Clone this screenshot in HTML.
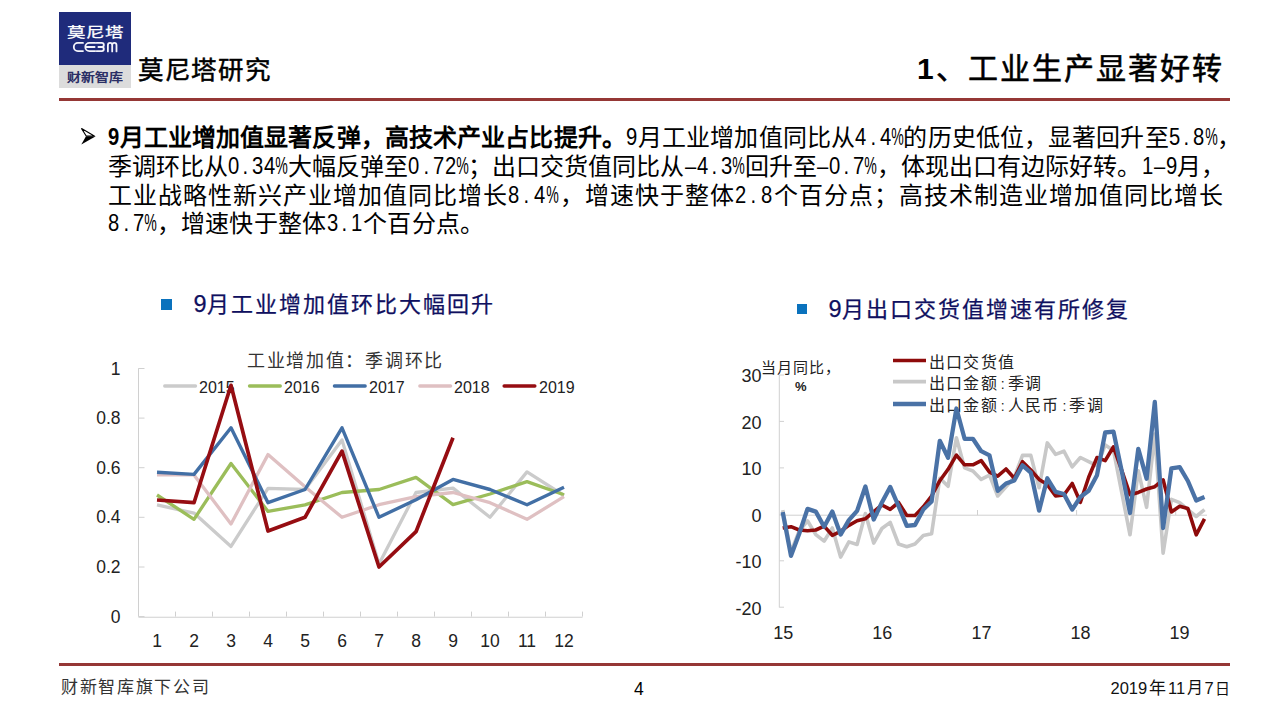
<!DOCTYPE html>
<html lang="zh-CN"><head><meta charset="utf-8">
<style>
html,body{margin:0;padding:0;background:#fff;}
body{width:1280px;height:720px;position:relative;overflow:hidden;font-family:"Liberation Sans",sans-serif;color:#000;}
.a{position:absolute;white-space:nowrap;line-height:1;}
#logo1{position:absolute;left:59px;top:12px;width:72px;height:53px;background:#1f2b7b;}
#logo2{position:absolute;left:59px;top:65px;width:72px;height:23px;background:#dcdcdc;}
.hr{position:absolute;left:59px;width:1171px;height:3px;background:#953735;}
svg{position:absolute;left:0;top:0;}
.ln{position:absolute;display:flex;justify-content:space-between;white-space:nowrap;font-size:24px;line-height:24px;height:24px}
.ln span{display:flex;justify-content:center}
.f{width:24px}
.h{width:12px;font-size:23.5px}
.b{font-weight:bold}
.co{display:inline-block;width:10px;text-align:center;letter-spacing:0;font-size:14px}
s{text-decoration:none;display:inline-block;transform:scaleX(0.86);position:relative;top:-1px}
s.pc{transform:scaleX(0.6)}
</style></head><body>
<div id="logo1"></div><div id="logo2"></div>
<div class="a" style="left:66.5px;top:26px;font-size:18.5px;color:#fff;letter-spacing:0;transform:scaleY(0.76);transform-origin:0 0;font-weight:400;-webkit-text-stroke:0.35px #fff">莫尼塔</div>
<svg width="1280" height="720" style="position:absolute;left:0;top:0"><g fill="none" stroke="#f4f4fb" stroke-width="1.8" stroke-linecap="round" stroke-linejoin="round">
<path d="M83,42.9 H77.9 A4.1,4.1 0 0 0 77.9,51.1 H83"/>
<path d="M95.2,42.9 H89.4 A4.1,4.1 0 0 0 89.4,51.1 H95.2 M86.2,47 H94.6"/>
<path d="M96.6,42.9 H101.8 A2.05,2.05 0 0 1 101.8,47 H98.4 M101.8,47 A2.05,2.05 0 0 1 101.8,51.1 H96.6"/>
<path d="M107.9,51.4 V45.2 A2.15,2.3 0 0 1 112.2,45.2 V51.4 M112.2,45.2 A2.15,2.3 0 0 1 116.5,45.2 V51.4"/>
</g></svg>
<div class="a" style="left:67px;top:70.5px;font-size:14px;color:#2b2f66;font-weight:bold;transform:scaleY(0.88);transform-origin:0 0">财新智库</div>
<div class="a" style="left:138px;top:58px;font-size:25.5px;font-weight:400;letter-spacing:0.7px;-webkit-text-stroke:0.5px #000">莫尼塔研究</div>
<div class="a" style="left:917px;top:54px;font-size:30px;font-weight:400;letter-spacing:2px;-webkit-text-stroke:0.55px #000"><b style="-webkit-text-stroke:0">1</b>、工业生产显著好转</div>
<div class="hr" style="top:98px"></div>

<svg width="1280" height="720" style="position:absolute;left:0;top:0"><path d="M81.3,144.6 L86,136.3 L95.8,136.3 Z" fill="#000"/><path d="M81.6,128.6 L94.3,136 L86.2,136 Z" fill="#fff" stroke="#000" stroke-width="1.1" stroke-linejoin="round"/></svg>
<div class="ln" style="left:107.5px;top:126px;width:1134px"><span class="h b"><s>9</s></span><span class="f b">月</span><span class="f b">工</span><span class="f b">业</span><span class="f b">增</span><span class="f b">加</span><span class="f b">值</span><span class="f b">显</span><span class="f b">著</span><span class="f b">反</span><span class="f b">弹</span><span class="f b">，</span><span class="f b">高</span><span class="f b">技</span><span class="f b">术</span><span class="f b">产</span><span class="f b">业</span><span class="f b">占</span><span class="f b">比</span><span class="f b">提</span><span class="f b">升</span><span class="f b">。</span><span class="h"><s>9</s></span><span class="f">月</span><span class="f">工</span><span class="f">业</span><span class="f">增</span><span class="f">加</span><span class="f">值</span><span class="f">同</span><span class="f">比</span><span class="f">从</span><span class="h"><s>4</s></span><span class="h"><s>.</s></span><span class="h"><s>4</s></span><span class="h"><s class="pc">%</s></span><span class="f">的</span><span class="f">历</span><span class="f">史</span><span class="f">低</span><span class="f">位</span><span class="f">，</span><span class="f">显</span><span class="f">著</span><span class="f">回</span><span class="f">升</span><span class="f">至</span><span class="h"><s>5</s></span><span class="h"><s>.</s></span><span class="h"><s>8</s></span><span class="h"><s class="pc">%</s></span><span class="f">，</span></div>
<div class="ln" style="left:107.5px;top:155px;width:1118px"><span class="f">季</span><span class="f">调</span><span class="f">环</span><span class="f">比</span><span class="f">从</span><span class="h"><s>0</s></span><span class="h"><s>.</s></span><span class="h"><s>3</s></span><span class="h"><s>4</s></span><span class="h"><s class="pc">%</s></span><span class="f">大</span><span class="f">幅</span><span class="f">反</span><span class="f">弹</span><span class="f">至</span><span class="h"><s>0</s></span><span class="h"><s>.</s></span><span class="h"><s>7</s></span><span class="h"><s>2</s></span><span class="h"><s class="pc">%</s></span><span class="f">；</span><span class="f">出</span><span class="f">口</span><span class="f">交</span><span class="f">货</span><span class="f">值</span><span class="f">同</span><span class="f">比</span><span class="f">从</span><span class="h"><s>–</s></span><span class="h"><s>4</s></span><span class="h"><s>.</s></span><span class="h"><s>3</s></span><span class="h"><s class="pc">%</s></span><span class="f">回</span><span class="f">升</span><span class="f">至</span><span class="h"><s>–</s></span><span class="h"><s>0</s></span><span class="h"><s>.</s></span><span class="h"><s>7</s></span><span class="h"><s class="pc">%</s></span><span class="f">，</span><span class="f">体</span><span class="f">现</span><span class="f">出</span><span class="f">口</span><span class="f">有</span><span class="f">边</span><span class="f">际</span><span class="f">好</span><span class="f">转</span><span class="f">。</span><span class="h"><s>1</s></span><span class="h"><s>–</s></span><span class="h"><s>9</s></span><span class="f">月</span><span class="f">，</span></div>
<div class="ln" style="left:107.5px;top:184px;width:1115px"><span class="f">工</span><span class="f">业</span><span class="f">战</span><span class="f">略</span><span class="f">性</span><span class="f">新</span><span class="f">兴</span><span class="f">产</span><span class="f">业</span><span class="f">增</span><span class="f">加</span><span class="f">值</span><span class="f">同</span><span class="f">比</span><span class="f">增</span><span class="f">长</span><span class="h"><s>8</s></span><span class="h"><s>.</s></span><span class="h"><s>4</s></span><span class="h"><s class="pc">%</s></span><span class="f">，</span><span class="f">增</span><span class="f">速</span><span class="f">快</span><span class="f">于</span><span class="f">整</span><span class="f">体</span><span class="h"><s>2</s></span><span class="h"><s>.</s></span><span class="h"><s>8</s></span><span class="f">个</span><span class="f">百</span><span class="f">分</span><span class="f">点</span><span class="f">；</span><span class="f">高</span><span class="f">技</span><span class="f">术</span><span class="f">制</span><span class="f">造</span><span class="f">业</span><span class="f">增</span><span class="f">加</span><span class="f">值</span><span class="f">同</span><span class="f">比</span><span class="f">增</span><span class="f">长</span></div>
<div class="ln" style="left:107.5px;top:212px;width:377px"><span class="h"><s>8</s></span><span class="h"><s>.</s></span><span class="h"><s>7</s></span><span class="h"><s class="pc">%</s></span><span class="f">，</span><span class="f">增</span><span class="f">速</span><span class="f">快</span><span class="f">于</span><span class="f">整</span><span class="f">体</span><span class="h"><s>3</s></span><span class="h"><s>.</s></span><span class="h"><s>1</s></span><span class="f">个</span><span class="f">百</span><span class="f">分</span><span class="f">点</span><span class="f">。</span></div>

<div style="position:absolute;left:161px;top:299px;width:11px;height:11px;background:#0a72bd"></div>
<div class="a" style="left:193.5px;top:293px;font-size:22px;letter-spacing:2.05px;color:#10105f;-webkit-text-stroke:0.25px #10105f"><span style="font-size:23.5px;letter-spacing:0">9</span>月工业增加值环比大幅回升</div>
<div style="position:absolute;left:797px;top:304px;width:10px;height:10px;background:#0a72bd"></div>
<div class="a" style="left:828.5px;top:298px;font-size:22px;letter-spacing:2.05px;color:#10105f;-webkit-text-stroke:0.25px #10105f"><span style="font-size:23.5px;letter-spacing:0">9</span>月出口交货值增速有所修复</div>

<div class="a" style="left:247px;top:351.5px;font-size:18px;color:#333;letter-spacing:1.7px">工业增加值：季调环比</div>
<div class="a" style="left:199px;top:380px;font-size:16px;color:#222">2015</div>
<div class="a" style="left:284px;top:380px;font-size:16px;color:#222">2016</div>
<div class="a" style="left:369px;top:380px;font-size:16px;color:#222">2017</div>
<div class="a" style="left:454px;top:380px;font-size:16px;color:#222">2018</div>
<div class="a" style="left:539px;top:380px;font-size:16px;color:#222">2019</div>







<div id="lxl"></div>

<div class="a" style="left:760.5px;top:359.5px;font-size:15px;letter-spacing:1.0px;color:#222">当月同比，</div>
<div class="a" style="left:795px;top:380px;font-size:13px;font-weight:bold;color:#222">%</div>
<div class="a" style="left:929px;top:355px;font-size:16px;letter-spacing:1.2px;color:#222">出口交货值</div>
<div class="a" style="left:929px;top:376px;font-size:16px;letter-spacing:1.2px;color:#222">出口金额<span class="co">:</span>季调</div>
<div class="a" style="left:929px;top:398px;font-size:16px;letter-spacing:1.2px;color:#222">出口金额<span class="co">:</span>人民币<span class="co">:</span>季调</div>

<svg width="1280" height="720" viewBox="0 0 1280 720">
<line x1="138.5" y1="368.3" x2="138.5" y2="616.6" stroke="#d0d0d0" stroke-width="1"/>
<line x1="138.5" y1="617.2" x2="582.5" y2="617.2" stroke="#d0d0d0" stroke-width="1.1"/>
<line x1="138.5" y1="616.6" x2="144.5" y2="616.6" stroke="#d0d0d0" stroke-width="1"/>
<line x1="138.5" y1="567.0" x2="144.5" y2="567.0" stroke="#d0d0d0" stroke-width="1"/>
<line x1="138.5" y1="517.3" x2="144.5" y2="517.3" stroke="#d0d0d0" stroke-width="1"/>
<line x1="138.5" y1="467.7" x2="144.5" y2="467.7" stroke="#d0d0d0" stroke-width="1"/>
<line x1="138.5" y1="418.1" x2="144.5" y2="418.1" stroke="#d0d0d0" stroke-width="1"/>
<line x1="138.5" y1="368.5" x2="144.5" y2="368.5" stroke="#d0d0d0" stroke-width="1"/>
<line x1="175.5" y1="616.6" x2="175.5" y2="611.6" stroke="#d0d0d0" stroke-width="1"/>
<line x1="212.5" y1="616.6" x2="212.5" y2="611.6" stroke="#d0d0d0" stroke-width="1"/>
<line x1="249.5" y1="616.6" x2="249.5" y2="611.6" stroke="#d0d0d0" stroke-width="1"/>
<line x1="286.5" y1="616.6" x2="286.5" y2="611.6" stroke="#d0d0d0" stroke-width="1"/>
<line x1="323.5" y1="616.6" x2="323.5" y2="611.6" stroke="#d0d0d0" stroke-width="1"/>
<line x1="360.5" y1="616.6" x2="360.5" y2="611.6" stroke="#d0d0d0" stroke-width="1"/>
<line x1="397.5" y1="616.6" x2="397.5" y2="611.6" stroke="#d0d0d0" stroke-width="1"/>
<line x1="434.5" y1="616.6" x2="434.5" y2="611.6" stroke="#d0d0d0" stroke-width="1"/>
<line x1="471.5" y1="616.6" x2="471.5" y2="611.6" stroke="#d0d0d0" stroke-width="1"/>
<line x1="508.5" y1="616.6" x2="508.5" y2="611.6" stroke="#d0d0d0" stroke-width="1"/>
<line x1="545.5" y1="616.6" x2="545.5" y2="611.6" stroke="#d0d0d0" stroke-width="1"/>
<line x1="582.5" y1="616.6" x2="582.5" y2="611.6" stroke="#d0d0d0" stroke-width="1"/>
<polyline points="157.0,504.9 194.0,513.1 231.0,546.4 268.0,488.3 305.0,489.5 342.0,439.9 379.0,564.0 416.0,492.5 453.0,488.1 490.0,517.3 527.0,471.9 564.0,495.5" fill="none" stroke="#cbcbcb" stroke-width="3.3" stroke-linejoin="round"/>
<polyline points="157.0,495.0 194.0,519.3 231.0,463.5 268.0,511.4 305.0,504.9 342.0,492.5 379.0,489.5 416.0,477.4 453.0,504.7 490.0,494.0 527.0,481.6 564.0,494.8" fill="none" stroke="#9bbd5a" stroke-width="3.3" stroke-linejoin="round"/>
<polyline points="157.0,474.9 194.0,474.9 231.0,524.0 268.0,454.6 305.0,486.8 342.0,517.3 379.0,504.7 416.0,496.7 453.0,492.5 490.0,502.7 527.0,519.3 564.0,496.7" fill="none" stroke="#dfc0c2" stroke-width="3.3" stroke-linejoin="round"/>
<polyline points="157.0,472.2 194.0,474.4 231.0,427.8 268.0,502.7 305.0,489.5 342.0,427.8 379.0,517.3 416.0,499.7 453.0,479.4 490.0,489.5 527.0,504.7 564.0,487.3" fill="none" stroke="#426fa5" stroke-width="3.4" stroke-linejoin="round"/>
<polyline points="157.0,500.0 194.0,502.7 231.0,385.3 268.0,531.0 305.0,517.3 342.0,451.1 379.0,567.0 416.0,531.7 453.0,437.7" fill="none" stroke="#960d12" stroke-width="3.7" stroke-linejoin="round"/>
<line x1="164.7" y1="386" x2="195.5" y2="386" stroke="#cbcbcb" stroke-width="3.3" stroke-linecap="round"/>
<line x1="249.5" y1="386" x2="280.3" y2="386" stroke="#9bbd5a" stroke-width="3.3" stroke-linecap="round"/>
<line x1="334.40000000000003" y1="386" x2="365.2" y2="386" stroke="#426fa5" stroke-width="3.3" stroke-linecap="round"/>
<line x1="419.8" y1="386" x2="450.59999999999997" y2="386" stroke="#dfc0c2" stroke-width="3.3" stroke-linecap="round"/>
<line x1="504.1" y1="386" x2="534.9" y2="386" stroke="#960d12" stroke-width="3.3" stroke-linecap="round"/>
<line x1="779.3" y1="375" x2="779.3" y2="607.5" stroke="#d0d0d0" stroke-width="1"/>
<line x1="779.3" y1="375.0" x2="784" y2="375.0" stroke="#d0d0d0" stroke-width="1"/>
<line x1="779.3" y1="421.4" x2="784" y2="421.4" stroke="#d0d0d0" stroke-width="1"/>
<line x1="779.3" y1="467.9" x2="784" y2="467.9" stroke="#d0d0d0" stroke-width="1"/>
<line x1="779.3" y1="514.4" x2="784" y2="514.4" stroke="#d0d0d0" stroke-width="1"/>
<line x1="779.3" y1="560.8" x2="784" y2="560.8" stroke="#d0d0d0" stroke-width="1"/>
<line x1="779.3" y1="607.2" x2="784" y2="607.2" stroke="#d0d0d0" stroke-width="1"/>
<line x1="779.3" y1="515.2" x2="1207" y2="515.2" stroke="#d0d0d0" stroke-width="1"/>
<line x1="878.4" y1="515.2" x2="878.4" y2="510" stroke="#d0d0d0" stroke-width="1"/>
<line x1="977.5" y1="515.2" x2="977.5" y2="510" stroke="#d0d0d0" stroke-width="1"/>
<line x1="1076.6" y1="515.2" x2="1076.6" y2="510" stroke="#d0d0d0" stroke-width="1"/>
<line x1="1175.7" y1="515.2" x2="1175.7" y2="510" stroke="#d0d0d0" stroke-width="1"/>
<polyline points="782.7,510.2 791.0,552.0 799.2,531.0 807.5,520.8 815.8,534.6 824.1,541.2 832.3,528.0 840.6,557.1 848.9,541.9 857.1,544.5 865.4,513.5 873.7,543.1 881.9,528.5 890.2,522.4 898.5,544.0 906.8,546.7 915.0,544.0 923.3,535.5 931.6,533.7 939.8,478.2 948.1,486.3 956.4,437.8 964.6,467.9 972.9,471.0 981.2,479.4 989.5,475.2 997.7,496.0 1006.0,486.7 1014.3,477.3 1022.5,455.4 1030.8,455.4 1039.1,487.7 1047.3,442.9 1055.6,454.4 1063.9,451.2 1072.2,466.9 1080.4,457.5 1088.7,461.7 1097.0,465.8 1105.2,445.0 1113.5,450.5 1121.8,493.0 1130.0,534.8 1138.3,470.7 1146.6,507.3 1154.8,434.0 1163.1,553.2 1171.4,499.3 1179.7,502.7 1187.9,509.6 1196.2,516.5 1204.5,509.6" fill="none" stroke="#c8c8c8" stroke-width="3.6" stroke-linejoin="round"/>
<polyline points="782.7,528.0 791.0,526.7 799.2,530.0 807.5,530.7 815.8,530.0 824.1,526.1 832.3,535.3 840.6,531.3 848.9,525.4 857.1,520.8 865.4,518.8 873.7,511.7 881.9,505.0 890.2,509.4 898.5,502.5 906.8,515.5 915.0,515.5 923.3,506.8 931.6,496.0 939.8,480.7 948.1,469.3 956.4,455.1 964.6,464.8 972.9,464.8 981.2,460.6 989.5,472.1 997.7,476.2 1006.0,469.0 1014.3,478.3 1022.5,461.7 1030.8,470.0 1039.1,479.4 1047.3,484.6 1055.6,496.0 1063.9,495.0 1072.2,483.5 1080.4,502.3 1088.7,477.3 1097.0,457.5 1105.2,460.6 1113.5,446.8 1121.8,470.7 1130.0,494.7 1138.3,492.4 1146.6,489.0 1154.8,486.7 1163.1,479.8 1171.4,511.9 1179.7,506.2 1187.9,508.5 1196.2,534.8 1204.5,518.8" fill="none" stroke="#8e0b0b" stroke-width="3.6" stroke-linejoin="round"/>
<polyline points="782.7,512.2 791.0,555.8 799.2,533.8 807.5,508.9 815.8,511.6 824.1,526.7 832.3,511.6 840.6,534.6 848.9,520.1 857.1,510.9 865.4,486.5 873.7,519.5 881.9,502.5 890.2,486.9 898.5,506.0 906.8,525.9 915.0,525.0 923.3,509.4 931.6,501.5 939.8,440.8 948.1,457.7 956.4,408.5 964.6,438.8 972.9,438.8 981.2,451.2 989.5,455.4 997.7,490.8 1006.0,483.5 1014.3,480.4 1022.5,465.3 1030.8,472.6 1039.1,510.6 1047.3,478.3 1055.6,491.9 1063.9,494.0 1072.2,509.6 1080.4,497.0 1088.7,490.8 1097.0,475.2 1105.2,432.5 1113.5,431.6 1121.8,471.5 1130.0,513.0 1138.3,448.9 1146.6,478.7 1154.8,401.9 1163.1,528.0 1171.4,468.4 1179.7,467.2 1187.9,481.0 1196.2,500.5 1204.5,497.0" fill="none" stroke="#4a72a6" stroke-width="4.3" stroke-linejoin="round"/>
<line x1="893" y1="360.5" x2="926" y2="360.5" stroke="#8e0b0b" stroke-width="3.6"/>
<line x1="893" y1="381.6" x2="926" y2="381.6" stroke="#c8c8c8" stroke-width="3.6"/>
<line x1="893" y1="404" x2="926" y2="404" stroke="#4a72a6" stroke-width="4.4"/>
<text x="157.0" y="646.8" font-size="17.5" text-anchor="middle" font-family="Liberation Sans" fill="#222">1</text>
<text x="194.0" y="646.8" font-size="17.5" text-anchor="middle" font-family="Liberation Sans" fill="#222">2</text>
<text x="231.0" y="646.8" font-size="17.5" text-anchor="middle" font-family="Liberation Sans" fill="#222">3</text>
<text x="268.0" y="646.8" font-size="17.5" text-anchor="middle" font-family="Liberation Sans" fill="#222">4</text>
<text x="305.0" y="646.8" font-size="17.5" text-anchor="middle" font-family="Liberation Sans" fill="#222">5</text>
<text x="342.0" y="646.8" font-size="17.5" text-anchor="middle" font-family="Liberation Sans" fill="#222">6</text>
<text x="379.0" y="646.8" font-size="17.5" text-anchor="middle" font-family="Liberation Sans" fill="#222">7</text>
<text x="416.0" y="646.8" font-size="17.5" text-anchor="middle" font-family="Liberation Sans" fill="#222">8</text>
<text x="453.0" y="646.8" font-size="17.5" text-anchor="middle" font-family="Liberation Sans" fill="#222">9</text>
<text x="490.0" y="646.8" font-size="17.5" text-anchor="middle" font-family="Liberation Sans" fill="#222">10</text>
<text x="527.0" y="646.8" font-size="17.5" text-anchor="middle" font-family="Liberation Sans" fill="#222">11</text>
<text x="564.0" y="646.8" font-size="17.5" text-anchor="middle" font-family="Liberation Sans" fill="#222">12</text>
<text x="120.5" y="374.5" font-size="17.5" text-anchor="end" font-family="Liberation Sans" fill="#222">1</text>
<text x="120.5" y="424.1" font-size="17.5" text-anchor="end" font-family="Liberation Sans" fill="#222">0.8</text>
<text x="120.5" y="473.7" font-size="17.5" text-anchor="end" font-family="Liberation Sans" fill="#222">0.6</text>
<text x="120.5" y="523.3" font-size="17.5" text-anchor="end" font-family="Liberation Sans" fill="#222">0.4</text>
<text x="120.5" y="573.0" font-size="17.5" text-anchor="end" font-family="Liberation Sans" fill="#222">0.2</text>
<text x="120.5" y="622.6" font-size="17.5" text-anchor="end" font-family="Liberation Sans" fill="#222">0</text>
<text x="761.5" y="382.2" font-size="18" text-anchor="end" font-family="Liberation Sans" fill="#222">30</text>
<text x="761.5" y="428.6" font-size="18" text-anchor="end" font-family="Liberation Sans" fill="#222">20</text>
<text x="761.5" y="475.1" font-size="18" text-anchor="end" font-family="Liberation Sans" fill="#222">10</text>
<text x="761.5" y="521.6" font-size="18" text-anchor="end" font-family="Liberation Sans" fill="#222">0</text>
<text x="761.5" y="568.0" font-size="18" text-anchor="end" font-family="Liberation Sans" fill="#222">-10</text>
<text x="761.5" y="614.5" font-size="18" text-anchor="end" font-family="Liberation Sans" fill="#222">-20</text>
<text x="783.3" y="638.5" font-size="18" text-anchor="middle" font-family="Liberation Sans" fill="#222">15</text>
<text x="882.3" y="638.5" font-size="18" text-anchor="middle" font-family="Liberation Sans" fill="#222">16</text>
<text x="981.4" y="638.5" font-size="18" text-anchor="middle" font-family="Liberation Sans" fill="#222">17</text>
<text x="1080.4" y="638.5" font-size="18" text-anchor="middle" font-family="Liberation Sans" fill="#222">18</text>
<text x="1179.5" y="638.5" font-size="18" text-anchor="middle" font-family="Liberation Sans" fill="#222">19</text>
</svg>
<div class="hr" style="top:663px"></div>
<div class="a" style="left:61px;top:679px;font-size:17px;color:#333;letter-spacing:1.7px">财新智库旗下公司</div>
<div class="a" style="left:634px;top:681px;font-size:17.5px;color:#000">4</div>
<div class="a" style="left:1110.5px;top:680px;font-size:16.5px;color:#111">2019</div>
<div class="a" style="left:1149px;top:680px;font-size:17px;color:#111">年</div>
<div class="a" style="left:1168px;top:680px;font-size:16.5px;color:#111">11</div>
<div class="a" style="left:1187px;top:680px;font-size:16px;color:#111">月</div>
<div class="a" style="left:1204.5px;top:680px;font-size:16.5px;color:#111">7</div>
<div class="a" style="left:1215px;top:681px;font-size:15px;color:#111">日</div>
</body></html>
